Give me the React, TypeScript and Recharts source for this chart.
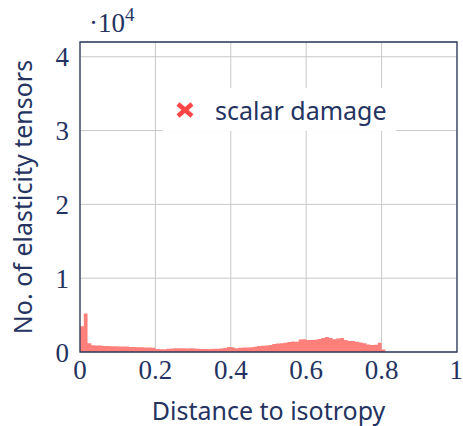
import {
  ComposedChart,
  Area,
  XAxis,
  YAxis,
  CartesianGrid,
  ReferenceArea,
  Legend,
  Label,
} from "recharts";

const TEXT = "#24335f";
const FRAME = "#2e3a5c";
const GRID = "#c9c9c9";
const FILL = "#ff7f7a";
const MARK = "#ff4545";
const SERIF = "'Liberation Serif', serif";
const SANS = "'Noto Sans', sans-serif";

// histogram bins of width 0.01 starting at 0
const BIN_WIDTH = 0.01;
const COUNTS = [
  3500, 5200, 1170, 920, 890, 880, 810, 800, 780, 770,
  760, 740, 730, 690, 675, 650, 635, 620, 610, 580,
  405, 365, 380, 430, 470, 500, 515, 500, 485, 500,
  470, 430, 420, 405, 420, 430, 445, 470, 540, 675,
  650, 510, 570, 595, 620, 650, 700, 810, 850, 890,
  945, 1080, 1150, 1190, 1240, 1350, 1420, 1390, 1690, 1730,
  1620, 1620, 1650, 1755, 1890, 2025, 1890, 1715, 1820, 1890,
  1620, 1485, 1485, 1390, 1280, 1175, 1010, 945, 970, 1255,
  340,
];
const X_TICKS = [0, 0.2, 0.4, 0.6, 0.8, 1];
const Y_TICKS = [0, 10000, 20000, 30000, 40000];
const Y_MAX = 42000;

const data = [
  ...COUNTS.map((count, i) => ({ x: +(i * BIN_WIDTH).toFixed(2), count })),
  { x: +(COUNTS.length * BIN_WIDTH).toFixed(2), count: 0 },
];

function fmtX(v: number) {
  return v === 0 || v === 1 ? String(v) : v.toFixed(1);
}

function LegendBox() {
  return (
    <div
      style={{
        background: "#fff",
        width: 233,
        height: 43,
        display: "flex",
        alignItems: "center",
        fontFamily: SANS,
        fontSize: 25,
        color: TEXT,
      }}
    >
      <svg width={20} height={18} style={{ marginLeft: 12, marginRight: 20 }}>
        <line x1={3} y1={3} x2={17} y2={15} stroke={MARK} strokeWidth={4.5} />
        <line x1={17} y1={3} x2={3} y2={15} stroke={MARK} strokeWidth={4.5} />
      </svg>
      <span>scalar damage</span>
    </div>
  );
}

export default function App() {
  return (
    <div style={{ position: "absolute", left: 0, top: 0 }}>
      <ComposedChart
        width={463}
        height={426}
        data={data}
        margin={{ top: 42, right: 6, left: 40, bottom: 44 }}
      >
        <CartesianGrid stroke={GRID} strokeWidth={1} />
        <XAxis
          dataKey="x"
          type="number"
          domain={[0, 1]}
          ticks={X_TICKS}
          tickFormatter={fmtX}
          axisLine={false}
          tickLine={false}
          tickSize={0}
          tickMargin={8}
          height={30}
          tick={{ fontFamily: SERIF, fontSize: 27, fill: TEXT }}
        >
          <Label
            content={({ viewBox }: any) => (
              <text
                x={viewBox.x + viewBox.width / 2}
                y={410}
                textAnchor="middle"
                dominantBaseline="central"
                fontFamily={SANS}
                fontSize={25}
                fill={TEXT}
              >
                Distance to isotropy
              </text>
            )}
          />
        </XAxis>
        <YAxis
          type="number"
          domain={[0, Y_MAX]}
          ticks={Y_TICKS}
          tickFormatter={(v: number) => String(v / 10000)}
          axisLine={false}
          tickLine={false}
          tickSize={0}
          tickMargin={11}
          width={40}
          tick={{ fontFamily: SERIF, fontSize: 27, fill: TEXT }}
        >
          <Label
            content={({ viewBox }: any) => (
              <text
                x={22}
                y={viewBox.y + viewBox.height / 2}
                textAnchor="middle"
                dominantBaseline="central"
                transform={`rotate(-90 22 ${viewBox.y + viewBox.height / 2})`}
                fontFamily={SANS}
                fontSize={25}
                fill={TEXT}
              >
                No. of elasticity tensors
              </text>
            )}
          />
          <Label
            content={() => (
              <text x={89} y={32} fontFamily={SERIF} fontSize={27} fill={TEXT}>
                ·10
                <tspan fontSize={19} dy={-11}>
                  4
                </tspan>
              </text>
            )}
          />
        </YAxis>
        <Area
          type="stepAfter"
          dataKey="count"
          fill={FILL}
          fillOpacity={1}
          stroke="none"
          isAnimationActive={false}
          legendType="none"
        />
        <ReferenceArea
          x1={0}
          x2={1}
          y1={0}
          y2={Y_MAX}
          fill="none"
          stroke={FRAME}
          strokeWidth={1.3}
        />
        <Legend
          layout="horizontal"
          verticalAlign="middle"
          align="center"
          wrapperStyle={{ left: 163, top: 88, width: 233, height: 43 }}
          content={() => <LegendBox />}
        />
      </ComposedChart>
    </div>
  );
}
